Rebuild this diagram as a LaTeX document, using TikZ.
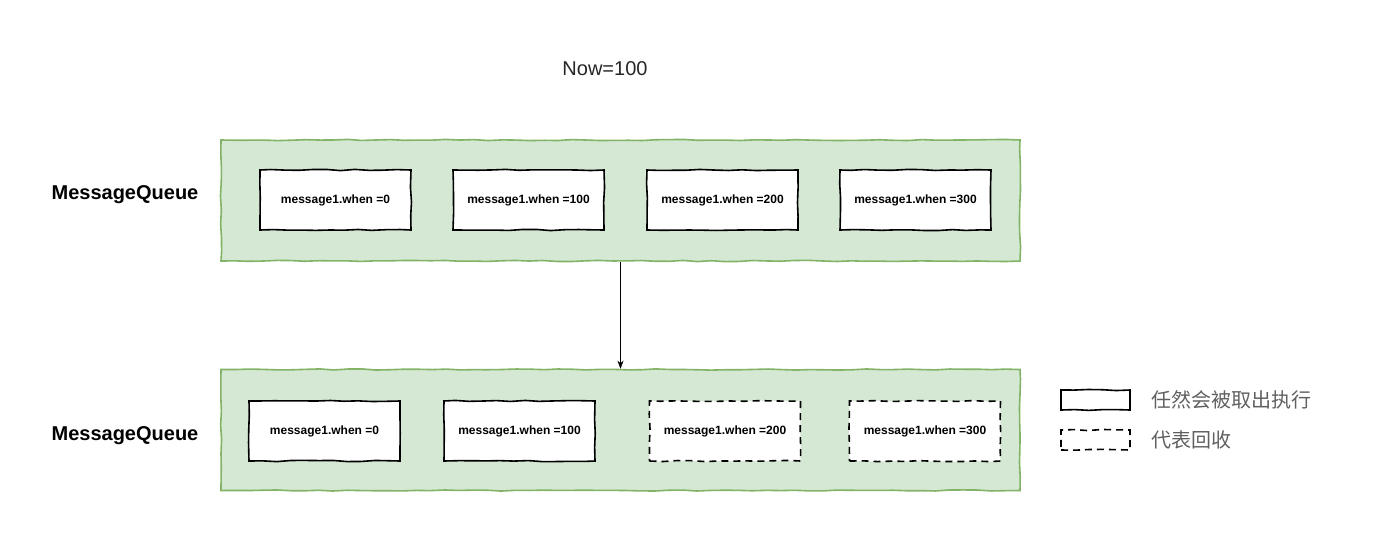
\documentclass[tikz,border=0pt]{standalone}
\usepackage{fontspec}
\setmainfont{Liberation Sans}
\newfontfamily\cjkfont{Noto Sans CJK SC}
\usetikzlibrary{arrows.meta,positioning,decorations.pathmorphing}
\definecolor{queuefill}{HTML}{D5E8D4}
\definecolor{queuedraw}{HTML}{82B366}
\definecolor{legendtext}{HTML}{606060}

\begin{document}
\begin{tikzpicture}[x=1pt, y=-1pt, >={Stealth[length=8pt,width=6pt]}, semithick, node distance=193pt]
	\pgfmathsetseed{7}
	\tikzstyle{sketchy}=[decorate, decoration={random steps, segment length=14pt, amplitude=0.6pt}]
	\tikzstyle{queue}=[sketchy, draw=queuedraw, fill=queuefill, line width=1.6pt, minimum width=799pt, minimum height=121pt, inner sep=0pt]
	\tikzstyle{msg}=[sketchy, draw=black, fill=white, line width=1.6pt, minimum width=151pt, minimum height=60pt, inner sep=0pt, font=\fontsize{12}{14}\selectfont\bfseries]
	\tikzstyle{gone}=[msg, dashed, dash pattern=on 7pt off 5pt]
	\tikzstyle{title}=[font=\fontsize{20}{24}\selectfont\bfseries]
	\tikzstyle{legend}=[anchor=west, text=legendtext, font=\cjkfont\fontsize{20}{23}\selectfont]
	\useasboundingbox (0,0) rectangle (1381,542);

	\node[font=\fontsize{20}{24}\selectfont, text=black!85] (now) at (605,69) {Now=100};

	% before
	\node[queue] (q1) at (620.5,200.5) {};
	\node[title] (l1) at (125,195) {MessageQueue};
	\node[msg] (a1) at (335.5,200) {message1.when =0};
	\node[msg] (a2)[right of=a1] {message1.when =100};
	\node[msg] (a3)[right of=a2, node distance=194pt] {message1.when =200};
	\node[msg] (a4)[right of=a3] {message1.when =300};

	% after
	\node[queue] (q2) at (620.5,430) {};
	\node[title] (l2) at (125,436) {MessageQueue};
	\node[msg] (b1) at (324.5,431) {message1.when =0};
	\node[msg] (b2)[right of=b1, node distance=195pt] {message1.when =100};
	\node[gone] (b3)[right of=b2, node distance=205.5pt] {message1.when =200};
	\node[gone] (b4)[right of=b3, node distance=200pt] {message1.when =300};

	\draw[->, thin] (q1) -- (q2);

	% legend
	\node[msg, minimum width=69pt, minimum height=20pt] (k1) at (1095.5,400) {};
	\node[gone, minimum width=69pt, minimum height=20pt] (k2) at (1095.5,440) {};
	\node[legend] (t1) at (1148,400) {任然会被取出执行};
	\node[legend] (t2) at (1148,440) {代表回收};
\end{tikzpicture}
\end{document}
